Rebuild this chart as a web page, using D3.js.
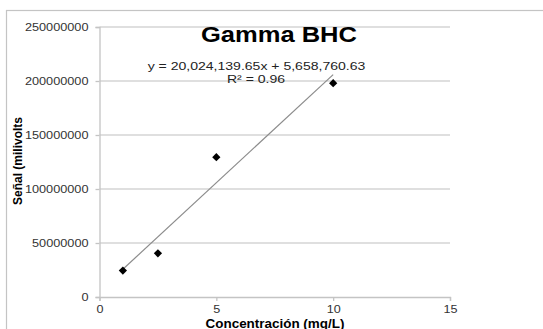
<!DOCTYPE html>
<html><head><meta charset="utf-8">
<script src="https://cdn.jsdelivr.net/npm/d3@7"></script>
<style>body{margin:0;background:#fff;}svg{display:block;font-family:"Liberation Sans",Arial,sans-serif;}</style>
</head><body>
<svg id="c" width="543" height="329"></svg>
<script>
const concentrations = [1, 2.5, 5, 10];
const signals = [24500000, 40500000, 129500000, 198000000];
const xTicks = [0, 5, 10, 15];
const yTicks = [0, 50000000, 100000000, 150000000, 200000000, 250000000];
const slope = 20024139.65, intercept = 5658760.63;
const title = "Gamma BHC";
const eqText = "y = 20,024,139.65x + 5,658,760.63";
const r2Text = "R² = 0.96";
const xTitle = "Concentración (mg/L)";
const yTitle = "Señal (milivolts";

const svg = d3.select("#c");
const x = d3.scaleLinear().domain([0, 15]).range([99.5, 450]);
const y = d3.scaleLinear().domain([0, 250000000]).range([297, 27]);

function stretch(sel, k){ sel.each(function(){ const w=this.getComputedTextLength(); this.setAttribute("textLength", w*k); this.setAttribute("lengthAdjust","spacingAndGlyphs");}); }

// outer border
svg.append("rect").attr("x",6.5).attr("y",10.5).attr("width",600).attr("height",400)
  .attr("fill","#fff").attr("stroke","#c4c4c4").attr("stroke-width",1.2);

// gridlines
svg.append("g").selectAll("line").data(yTicks.filter(d=>d>0)).join("line")
  .attr("x1",x(0)).attr("x2",x(15)).attr("y1",d=>y(d)).attr("y2",d=>y(d))
  .attr("stroke","#d4d4d4").attr("stroke-width",1.3);

// y axis
const ya = svg.append("g").attr("transform",`translate(${x(0)},0)`)
  .call(d3.axisLeft(y).tickValues(yTicks).tickFormat(d3.format("d")).tickSize(4).tickPadding(7));
ya.select(".domain").attr("stroke","#c4c4c4").attr("stroke-width",1.3);
ya.selectAll(".tick line").attr("stroke","#c4c4c4").attr("stroke-width",1.3);
ya.selectAll("text").attr("font-size",10).attr("fill","#333").attr("dy","0.36em");
stretch(ya.selectAll("text"),1.27);

// x axis
const xa = svg.append("g").attr("transform",`translate(0,${y(0)})`)
  .call(d3.axisBottom(x).tickValues(xTicks).tickSize(4).tickPadding(5));
xa.select(".domain").attr("stroke","#c4c4c4").attr("stroke-width",1.3);
xa.selectAll(".tick line").attr("stroke","#c4c4c4").attr("stroke-width",1.3);
xa.selectAll("text").attr("font-size",10.5).attr("fill","#333");
stretch(xa.selectAll("text"),1.2);

// trendline
const xMin = d3.min(concentrations), xMax = d3.max(concentrations);
svg.append("line").attr("x1",x(xMin)).attr("y1",y(slope*xMin+intercept))
  .attr("x2",x(xMax)).attr("y2",y(slope*xMax+intercept))
  .attr("stroke","#8c8c8c").attr("stroke-width",1.2);

// points
svg.append("g").selectAll("path").data(concentrations.map((c,i)=>[c,signals[i]])).join("path")
  .attr("d", d3.symbol().type(d3.symbolSquare).size(34))
  .attr("transform",d=>`translate(${x(d[0])},${y(d[1])}) rotate(45)`)
  .attr("fill","#000");

// title
const t = svg.append("text").attr("x",279).attr("y",42).attr("text-anchor","middle")
  .attr("font-size",22).attr("font-weight","bold").attr("fill","#000").text(title);
stretch(t,1.16);

const eq = svg.append("text").attr("x",256.5).attr("y",70).attr("text-anchor","middle")
  .attr("font-size",11.5).attr("fill","#222").text(eqText);
stretch(eq,1.22);
const r2 = svg.append("text").attr("x",256).attr("y",83).attr("text-anchor","middle")
  .attr("font-size",11.5).attr("fill","#222").text(r2Text);
stretch(r2,1.22);

// axis titles
const xt = svg.append("text").attr("x",275).attr("y",327.5).attr("text-anchor","middle")
  .attr("font-size",12).attr("font-weight","bold").attr("fill","#000").text(xTitle);
stretch(xt,1.12);
const yt = svg.append("text").attr("transform","translate(22,161) rotate(-90)").attr("text-anchor","middle")
  .attr("font-size",12).attr("font-weight","bold").attr("fill","#000").text(yTitle);
</script>
</body></html>
